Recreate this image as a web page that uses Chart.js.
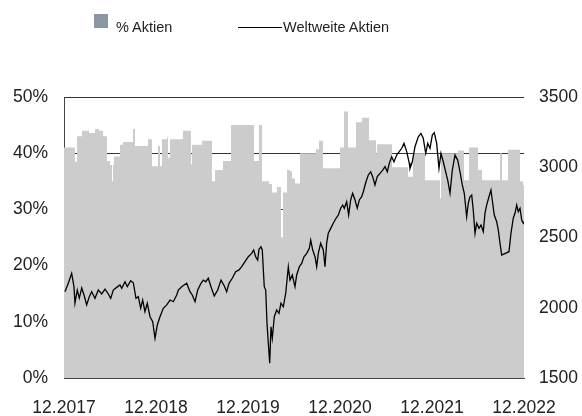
<!DOCTYPE html>
<html>
<head>
<meta charset="utf-8">
<script src="https://cdn.jsdelivr.net/npm/chart.js@4.4.1/dist/chart.umd.min.js"></script>
<style>
  html, body { margin: 0; padding: 0; background: #fff; }
  #wrap { position: relative; width: 582px; height: 416px; font-family: Arial, "Liberation Sans", sans-serif; }
  #chart { position: absolute; left: 0; top: 0; }
  .legend-box { position: absolute; left: 94px; top: 14px; width: 14px; height: 14px; background: #8b97a3; }
  .legend-line { position: absolute; left: 238px; top: 27px; width: 44px; height: 1px; background: #000; }
  .legend-text { position: absolute; top: 19px; font-size: 14.5px; line-height: 17px; color: #222; white-space: nowrap; }
</style>
</head>
<body>
<div id="wrap">
  <canvas id="chart" width="582" height="416"></canvas>
  <div class="legend-box"></div>
  <div class="legend-text" style="left:116px">% Aktien</div>
  <div class="legend-line"></div>
  <div class="legend-text" style="left:283px">Weltweite Aktien</div>
</div>
<script>
// x values are months since 12.2017
const xTickLabels = ["12.2017", "12.2018", "12.2019", "12.2020", "12.2021", "12.2022"];

// % Aktien (stepped, left axis)
const aktienMonths = [0, 1.43, 1.70, 2.35, 3.26, 4.04, 4.57, 5.09, 5.61, 6.00, 6.26, 6.39, 6.52, 7.30, 7.70,
  9.00, 9.26, 10.96, 11.48, 12.26, 12.52, 12.78, 13.43, 13.57, 13.83, 15.52, 16.56, 16.70, 18.00, 19.30,
  19.70, 20.74, 21.78, 24.78, 25.43, 25.83, 26.74, 27.13, 27.78, 28.30, 28.56, 29.09, 29.48, 29.74, 30.13,
  30.78, 32.87, 33.26, 33.78, 36.00, 36.52, 37.04, 38.09, 38.87, 39.78, 40.70, 40.83, 42.78, 44.87, 45.52,
  47.09, 49.04, 49.17, 51.39, 52.17, 52.83, 54.00, 54.52, 56.87, 57.13, 57.91, 59.48, 59.87, 60];
const aktienValues = [41.0, 38.5, 43.0, 44.0, 43.6, 44.3, 44.0, 43.0, 38.6, 37.9, 35.0, 37.9, 39.4, 41.5, 42.0,
  44.3, 41.3, 42.5, 37.7, 41.3, 37.7, 42.5, 42.8, 39.2, 42.5, 44.0, 38.0, 41.5, 42.2, 35.0,
  37.0, 38.6, 45.0, 38.6, 45.0, 35.0, 34.5, 33.0, 34.0, 25.0, 33.0, 37.0, 36.8, 35.5, 34.6,
  40.0, 40.7, 42.2, 37.3, 41.0, 47.4, 41.0, 45.5, 46.3, 42.3, 40.0, 41.6, 37.5, 35.8, 40.0,
  35.2, 32.0, 40.0, 40.5, 35.2, 41.0, 37.0, 35.2, 40.0, 35.2, 40.6, 35.0, 34.3, 34.3];

// Weltweite Aktien (line, right axis)
const weltMonths = [0.13, 0.56, 1.00, 1.30, 1.43, 1.73, 2.00, 2.31, 2.61, 2.96, 3.30, 3.61, 4.04, 4.47, 4.92,
  5.35, 5.78, 6.09, 6.43, 6.87, 7.30, 7.53, 7.96, 8.26, 8.70, 9.04, 9.39, 9.69, 10.00, 10.26,
  10.56, 10.86, 11.22, 11.57, 11.87, 12.17, 12.52, 12.95, 13.40, 13.83, 14.26, 14.70, 14.91, 15.35, 16.00,
  16.43, 16.73, 17.09, 17.44, 17.87, 18.17, 18.48, 18.82, 19.17, 19.60, 20.05, 20.48, 20.91, 21.22, 21.52,
  21.95, 22.39, 22.83, 23.18, 23.61, 24.04, 24.48, 24.74, 25.00, 25.26, 25.43, 25.69, 25.86, 26.12, 26.31,
  26.48, 26.65, 26.83, 27.00, 27.17, 27.43, 27.74, 28.04, 28.30, 28.60, 28.92, 29.26, 29.48, 29.78, 30.13,
  30.35, 30.69, 31.00, 31.30, 31.66, 32.00, 32.18, 32.44, 32.74, 32.96, 33.17, 33.48, 33.82, 34.04, 34.26,
  34.47, 34.79, 35.12, 35.48, 35.78, 36.09, 36.35, 36.56, 36.87, 37.13, 37.39, 37.65, 37.96, 38.25, 38.52,
  38.83, 39.04, 39.39, 39.69, 40.00, 40.26, 40.56, 40.86, 41.22, 41.57, 41.87, 42.17, 42.43, 42.74, 43.04,
  43.39, 43.73, 44.05, 44.35, 44.70, 45.04, 45.13, 45.43, 45.78, 46.21, 46.56, 46.86, 47.18, 47.44, 47.74,
  48.04, 48.30, 48.61, 48.91, 49.17, 49.47, 49.78, 50.05, 50.35, 50.65, 51.00, 51.35, 51.65, 51.95, 52.21,
  52.52, 52.73, 52.95, 53.18, 53.38, 53.61, 53.83, 54.13, 54.39, 54.69, 54.91, 55.13, 55.43, 55.69, 55.86,
  56.12, 56.44, 56.65, 56.87, 57.09, 58.04, 58.30, 58.60, 58.82, 59.05, 59.25, 59.48, 59.70, 59.91, 60.00];
const weltValues = [2114, 2174, 2245, 2150, 2032, 2126, 2069, 2141, 2091, 2020, 2079, 2114, 2067, 2126, 2098,
  2133, 2098, 2067, 2126, 2145, 2162, 2138, 2185, 2150, 2192, 2178, 2067, 2079, 1996, 2055,
  1972, 2032, 1936, 1901, 1783, 1877, 1936, 1996, 2020, 2055, 2043, 2091, 2126, 2150, 2174,
  2114, 2091, 2043, 2126, 2174, 2197, 2185, 2210, 2150, 2084, 2126, 2197, 2155, 2114, 2174,
  2210, 2257, 2269, 2292, 2328, 2363, 2387, 2411, 2363, 2340, 2416, 2434, 2411, 2150, 2126,
  1889, 1747, 1605, 1865, 1783, 1936, 1984, 1960, 2032, 2007, 2103, 2292, 2197, 2233, 2150,
  2233, 2292, 2316, 2363, 2387, 2423, 2482, 2411, 2363, 2292, 2387, 2459, 2411, 2292, 2459,
  2530, 2565, 2601, 2637, 2660, 2708, 2731, 2708, 2755, 2660, 2767, 2815, 2767, 2708, 2767,
  2790, 2826, 2897, 2945, 2968, 2933, 2874, 2933, 2957, 2980, 3004, 2968, 3028, 3075, 3039,
  3087, 3111, 3135, 3170, 3111, 3028, 2992, 3039, 3146, 3217, 3241, 3206, 3099, 3170, 3135,
  3229, 3246, 3170, 2992, 3099, 3039, 2968, 2909, 2815, 2980, 3087, 3051, 2968, 2874, 2815,
  2648, 2743, 2790, 2802, 2696, 2530, 2601, 2565, 2589, 2541, 2672, 2731, 2790, 2838, 2767,
  2660, 2612, 2553, 2459, 2375, 2399, 2530, 2637, 2672, 2731, 2684, 2708, 2624, 2601, 2612];

Chart.defaults.font.family = 'Arial, "Liberation Sans", sans-serif';
Chart.defaults.font.size = 17.5;
Chart.defaults.color = "#222";

const ctx = document.getElementById("chart").getContext("2d");

new Chart(ctx, {
  type: "line",
  data: {
    datasets: [
      {
        label: "Weltweite Aktien",
        data: weltMonths.map((m, i) => ({ x: m, y: weltValues[i] })),
        yAxisID: "y2",
        borderColor: "#000",
        borderWidth: 1.3,
        pointRadius: 0,
        tension: 0,
        fill: false
      },
      {
        label: "% Aktien",
        data: aktienMonths.map((m, i) => ({ x: m, y: aktienValues[i] })),
        yAxisID: "y",
        stepped: true,
        borderWidth: 0,
        borderColor: "rgba(0,0,0,0)",
        backgroundColor: "#cccccc",
        pointRadius: 0,
        fill: "origin"
      }
    ]
  },
  options: {
    responsive: false,
    animation: false,
    layout: { padding: { top: 97, left: 0, right: 0, bottom: 0 } },
    plugins: {
      legend: { display: false },
      tooltip: { enabled: false }
    },
    scales: {
      x: {
        type: "linear",
        min: 0,
        max: 60,
        grid: { display: false, drawTicks: false },
        border: { display: true, color: "#444", width: 1 },
        ticks: {
          stepSize: 12,
          autoSkip: false,
          maxRotation: 0,
          padding: 20,
          callback: (v) => xTickLabels[v / 12]
        },
        afterFit: (s) => { s.height = 38; }
      },
      y: {
        position: "left",
        min: 0,
        max: 50,
        grid: { color: "#333", drawTicks: false },
        border: { color: "#444", width: 1 },
        ticks: {
          stepSize: 10,
          padding: 16,
          callback: (v) => v + "%"
        },
        afterFit: (s) => { s.width = 64; }
      },
      y2: {
        position: "right",
        min: 1500,
        max: 3500,
        grid: { display: false, drawTicks: false },
        border: { display: false },
        ticks: {
          stepSize: 500,
          padding: 15,
          callback: (v) => String(v)
        },
        afterFit: (s) => { s.width = 58; }
      }
    }
  }
});
</script>
</body>
</html>
